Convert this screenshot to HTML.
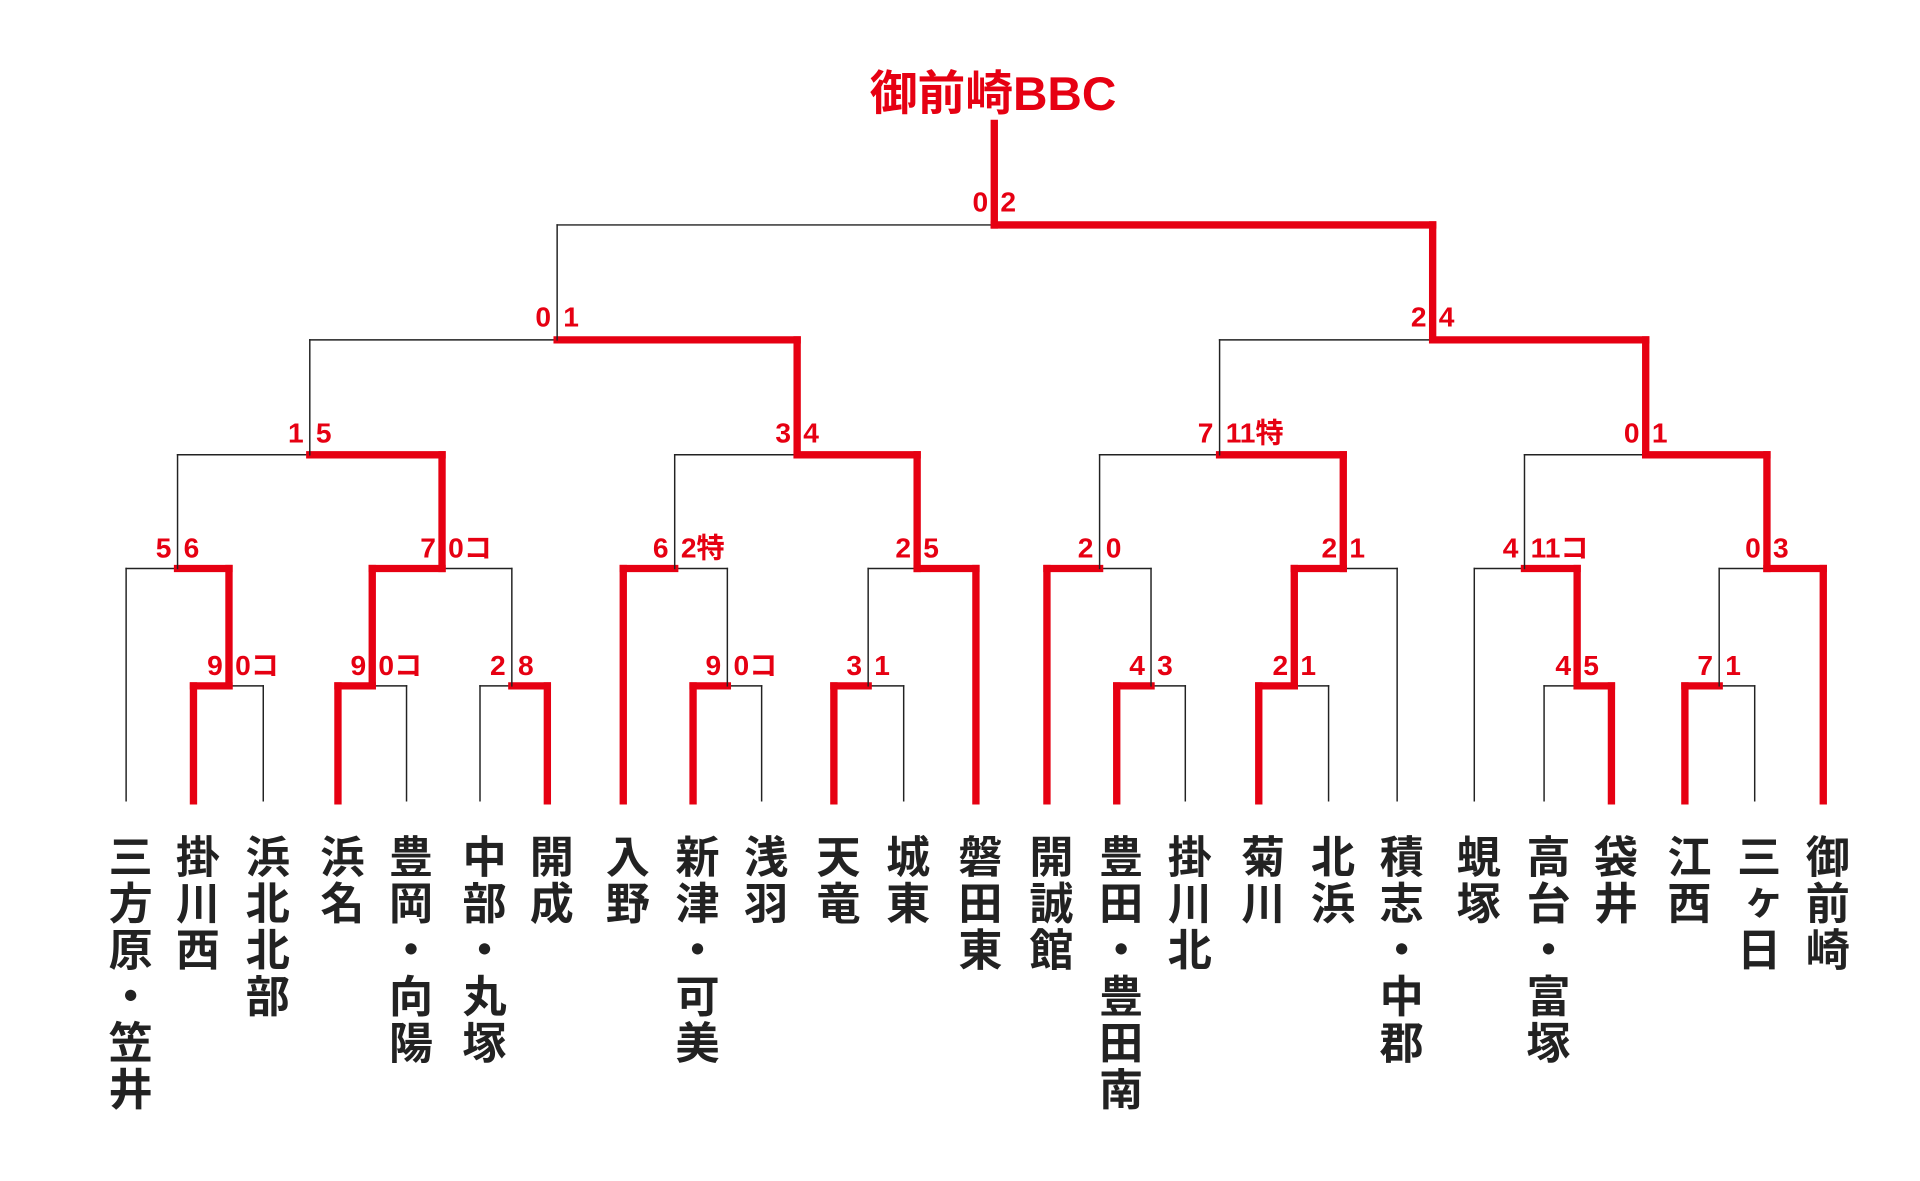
<!DOCTYPE html>
<html><head><meta charset="utf-8"><style>
html,body{margin:0;padding:0;background:#fff;}
svg{display:block;}
.s{font-family:"Liberation Sans","Noto Sans CJK JP",sans-serif;font-weight:bold;font-size:23px;fill:#e60012;}
.t{font-family:"Liberation Sans","Noto Sans CJK JP",sans-serif;font-weight:bold;font-size:36px;fill:#222;writing-mode:tb;letter-spacing:2px;}
</style></head><body>
<svg id="g" width="1920" height="1181" viewBox="0 0 1568 966" preserveAspectRatio="none" xmlns="http://www.w3.org/2000/svg">
<g id="lines"></g>
<text x="811" y="90" text-anchor="middle" style="font-family:'Liberation Sans','Noto Sans CJK JP',sans-serif;font-weight:bold;font-size:39px;fill:#e60012">御前崎BBC</text>
<g class="s">
<text x="182" y="552" text-anchor="end">9</text><text x="192" y="552">0コ</text>
<text x="140" y="456" text-anchor="end">5</text><text x="150" y="456">6</text>
<text x="299" y="552" text-anchor="end">9</text><text x="309" y="552">0コ</text>
<text x="413" y="552" text-anchor="end">2</text><text x="423" y="552">8</text>
<text x="356" y="456" text-anchor="end">7</text><text x="366" y="456">0コ</text>
<text x="248" y="362" text-anchor="end">1</text><text x="258" y="362">5</text>
<text x="589" y="552" text-anchor="end">9</text><text x="599" y="552">0コ</text>
<text x="546" y="456" text-anchor="end">6</text><text x="556" y="456">2特</text>
<text x="704" y="552" text-anchor="end">3</text><text x="714" y="552">1</text>
<text x="744" y="456" text-anchor="end">2</text><text x="754" y="456">5</text>
<text x="646" y="362" text-anchor="end">3</text><text x="656" y="362">4</text>
<text x="450" y="267" text-anchor="end">0</text><text x="460" y="267">1</text>
<text x="935" y="552" text-anchor="end">4</text><text x="945" y="552">3</text>
<text x="893" y="456" text-anchor="end">2</text><text x="903" y="456">0</text>
<text x="1052" y="552" text-anchor="end">2</text><text x="1062" y="552">1</text>
<text x="1092" y="456" text-anchor="end">2</text><text x="1102" y="456">1</text>
<text x="991" y="362" text-anchor="end">7</text><text x="1001" y="362">11特</text>
<text x="1283" y="552" text-anchor="end">4</text><text x="1293" y="552">5</text>
<text x="1240" y="456" text-anchor="end">4</text><text x="1250" y="456">11コ</text>
<text x="1399" y="552" text-anchor="end">7</text><text x="1409" y="552">1</text>
<text x="1438" y="456" text-anchor="end">0</text><text x="1448" y="456">3</text>
<text x="1339" y="362" text-anchor="end">0</text><text x="1349" y="362">1</text>
<text x="1165" y="267" text-anchor="end">2</text><text x="1175" y="267">4</text>
<text x="807" y="173" text-anchor="end">0</text><text x="817" y="173">2</text>
</g>
<g class="t">
<text x="103" y="682">三方原・笠井</text>
<text x="158" y="682">掛川西</text>
<text x="215" y="682">浜北北部</text>
<text x="276" y="682">浜名</text>
<text x="332" y="682">豊岡・向陽</text>
<text x="392" y="682">中部・丸塚</text>
<text x="447" y="682">開成</text>
<text x="509" y="682">入野</text>
<text x="566" y="682">新津・可美</text>
<text x="622" y="682">浅羽</text>
<text x="681" y="682">天竜</text>
<text x="738" y="682">城東</text>
<text x="797" y="682">磐田東</text>
<text x="855" y="682">開誠館</text>
<text x="912" y="682">豊田・豊田南</text>
<text x="968" y="682">掛川北</text>
<text x="1028" y="682">菊川</text>
<text x="1085" y="682">北浜</text>
<text x="1141" y="682">積志・中郡</text>
<text x="1204" y="682">蜆塚</text>
<text x="1261" y="682">高台・富塚</text>
<text x="1316" y="682">袋井</text>
<text x="1376" y="682">江西</text>
<text x="1433" y="682">三ヶ日</text>
<text x="1489" y="682">御前崎</text>
</g>
</svg>
<script>
var LB=655;
var M=[
[158,215,561,187,'L'],[103,187,465,145,'R'],
[276,332,561,304,'L'],[392,447,561,418,'R'],[304,418,465,361,'L'],
[145,361,372,253,'R'],
[566,622,561,594,'L'],[509,594,465,551,'L'],
[681,738,561,709,'L'],[709,797,465,749,'R'],
[551,749,372,651,'R'],[253,651,278,455,'R'],
[912,968,561,940,'L'],[855,940,465,898,'L'],
[1028,1085,561,1057,'L'],[1057,1141,465,1097,'L'],
[898,1097,372,996,'R'],
[1261,1316,561,1288,'R'],[1204,1288,465,1245,'R'],
[1376,1433,561,1404,'L'],[1404,1489,465,1443,'R'],
[1245,1443,372,1344,'R'],[996,1344,278,1170,'R'],
[455,1170,184,812,'R']
];
var out='';
function ln(x1,y1,x2,y2,r){out+='<line x1="'+x1+'" y1="'+y1+'" x2="'+x2+'" y2="'+y2+'" stroke="'+(r?'#e60012':'#222')+'" stroke-width="'+(r?6:1.2)+'" stroke-linecap="square"/>';}
var childBottom={};
M.forEach(function(m){childBottom[m[3]]=m[2];});
M.forEach(function(m){
  var L=m[0],R=m[1],y=m[2],j=m[3],w=m[4];
  var lb=childBottom[L]!==undefined?childBottom[L]:LB;
  var rb=childBottom[R]!==undefined?childBottom[R]:LB;
  if(w==='L'){ln(R,rb,R,y,false);ln(j,y,R,y,false);ln(L,lb,L,y,true);ln(L,y,j,y,true);}
  else{ln(L,lb,L,y,false);ln(L,y,j,y,false);ln(R,rb,R,y,true);ln(j,y,R,y,true);}
});
ln(812,184,812,101,true);
document.getElementById('lines').innerHTML=out;
</script>
</body></html>
